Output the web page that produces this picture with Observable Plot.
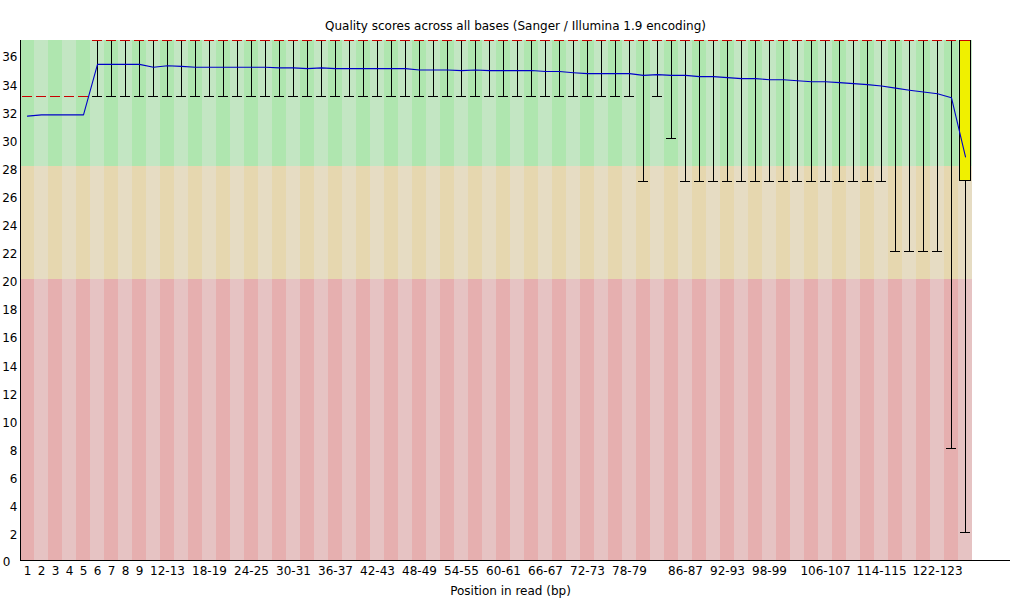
<!DOCTYPE html>
<html>
<head>
<meta charset="utf-8">
<script src="https://cdn.jsdelivr.net/npm/d3@7"></script>
<script src="https://cdn.jsdelivr.net/npm/@observablehq/plot@0.6"></script>
<style>
  html, body { margin: 0; padding: 0; background: white; }
</style>
</head>
<body>
<div id="chart"></div>
<script>
const title = "Quality scores across all bases (Sanger / Illumina 1.9 encoding)";
const xLabel = "Position in read (bp)";

const positions = ["1","2","3","4","5","6","7","8","9","10-11","12-13","14-15","16-17","18-19","20-21","22-23","24-25","26-27","28-29","30-31","32-33","34-35","36-37","38-39","40-41","42-43","44-45","46-47","48-49","50-51","52-53","54-55","56-57","58-59","60-61","62-63","64-65","66-67","68-69","70-71","72-73","74-75","76-77","78-79","80-81","82-83","84-85","86-87","88-89","90-91","92-93","94-95","96-97","98-99","100-101","102-103","104-105","106-107","108-109","110-111","112-113","114-115","116-117","118-119","120-121","122-123","124-125","126"];

const xTickLabels = ["1","2","3","4","5","6","7","8","9","12-13","18-19","24-25","30-31","36-37","42-43","48-49","54-55","60-61","66-67","72-73","78-79","86-87","92-93","98-99","106-107","114-115","122-123"];

const yTickLabels = [2,4,6,8,10,12,14,16,18,20,22,24,26,28,30,32,34,36];

const means = [
  31.62, 31.71, 31.71, 31.71, 31.71, 35.3, 35.3, 35.3, 35.3, 35.1,
  35.2, 35.16, 35.1, 35.1, 35.1, 35.1, 35.1, 35.1, 35.05, 35.05,
  35.0, 35.05, 35.0, 35.0, 35.0, 35.0, 35.0, 35.0, 34.9, 34.9,
  34.9, 34.86, 34.9, 34.86, 34.86, 34.86, 34.86, 34.79, 34.79, 34.71,
  34.64, 34.64, 34.64, 34.64, 34.52, 34.57, 34.52, 34.52, 34.43, 34.43,
  34.36, 34.29, 34.29, 34.21, 34.21, 34.14, 34.07, 34.07, 34.0, 33.93,
  33.86, 33.76, 33.61, 33.46, 33.33, 33.21, 32.92, 28.72
];

const medians = [
  33, 33, 33, 33, 33, 37, 37, 37, 37, 37,
  37, 37, 37, 37, 37, 37, 37, 37, 37, 37,
  37, 37, 37, 37, 37, 37, 37, 37, 37, 37,
  37, 37, 37, 37, 37, 37, 37, 37, 37, 37,
  37, 37, 37, 37, 37, 37, 37, 37, 37, 37,
  37, 37, 37, 37, 37, 37, 37, 37, 37, 37,
  37, 37, 37, 37, 37, 37, 37, 37
];

const lowerQuartile = [
  33, 33, 33, 33, 33, 37, 37, 37, 37, 37,
  37, 37, 37, 37, 37, 37, 37, 37, 37, 37,
  37, 37, 37, 37, 37, 37, 37, 37, 37, 37,
  37, 37, 37, 37, 37, 37, 37, 37, 37, 37,
  37, 37, 37, 37, 37, 37, 37, 37, 37, 37,
  37, 37, 37, 37, 37, 37, 37, 37, 37, 37,
  37, 37, 37, 37, 37, 37, 37, 27
];

const upperQuartile = [
  33, 33, 33, 33, 33, 37, 37, 37, 37, 37,
  37, 37, 37, 37, 37, 37, 37, 37, 37, 37,
  37, 37, 37, 37, 37, 37, 37, 37, 37, 37,
  37, 37, 37, 37, 37, 37, 37, 37, 37, 37,
  37, 37, 37, 37, 37, 37, 37, 37, 37, 37,
  37, 37, 37, 37, 37, 37, 37, 37, 37, 37,
  37, 37, 37, 37, 37, 37, 37, 37
];

const p10 = [
  33, 33, 33, 33, 33, 33, 33, 33, 33, 33,
  33, 33, 33, 33, 33, 33, 33, 33, 33, 33,
  33, 33, 33, 33, 33, 33, 33, 33, 33, 33,
  33, 33, 33, 33, 33, 33, 33, 33, 33, 33,
  33, 33, 33, 33, 27, 33, 30, 27, 27, 27,
  27, 27, 27, 27, 27, 27, 27, 27, 27, 27,
  27, 27, 22, 22, 22, 22, 8, 2
];

const p90 = [
  33, 33, 33, 33, 33, 37, 37, 37, 37, 37,
  37, 37, 37, 37, 37, 37, 37, 37, 37, 37,
  37, 37, 37, 37, 37, 37, 37, 37, 37, 37,
  37, 37, 37, 37, 37, 37, 37, 37, 37, 37,
  37, 37, 37, 37, 37, 37, 37, 37, 37, 37,
  37, 37, 37, 37, 37, 37, 37, 37, 37, 37,
  37, 37, 37, 37, 37, 37, 37, 37
];

// quality zones: low, high, even-column colour, odd-column colour
const zoneLows = [28, 20, 0];
const zoneHighs = [37, 28, 20];
const zoneEven = ["#afe6af", "#e6d7af", "#e6afaf"];
const zoneOdd = ["#c3e6c3", "#e6dcc3", "#e6c3c3"];

const yMax = 37;
const boxHalf = 0.375;

const idx = positions.map((_, i) => i);
const cells = [];
for (const i of idx) {
  for (let z = 0; z < zoneLows.length; z++) {
    cells.push({i, lo: zoneLows[z], hi: zoneHighs[z], color: i % 2 === 0 ? zoneEven[z] : zoneOdd[z]});
  }
}
const xTicks = xTickLabels.map(l => positions.indexOf(l));
const boxes = idx.filter(i => upperQuartile[i] > lowerQuartile[i]);

const chart = Plot.plot({
  width: 1020,
  height: 600,
  marginTop: 40,
  marginBottom: 40,
  marginLeft: 20,
  marginRight: 48,
  x: {domain: [-0.5, positions.length - 0.5], axis: null},
  y: {domain: [0, yMax], axis: null},
  color: {type: "identity"},
  style: {fontFamily: "'DejaVu Sans', sans-serif", fontSize: "12px", background: "white", color: "black"},
  marks: [
    Plot.rect(cells, {x1: d => d.i - 0.5, x2: d => d.i + 0.5, y1: "lo", y2: "hi", fill: "color", shapeRendering: "crispEdges"}),
    Plot.ruleX(idx, {x: i => i, y1: i => p10[i], y2: i => p90[i], stroke: "black", shapeRendering: "crispEdges"}),
    Plot.ruleY(idx, {y: i => p10[i], x1: i => i - boxHalf, x2: i => i + boxHalf, stroke: "black", shapeRendering: "crispEdges"}),
    Plot.ruleY(idx, {y: i => p90[i], x1: i => i - boxHalf, x2: i => i + boxHalf, stroke: "black", shapeRendering: "crispEdges"}),
    Plot.rect(boxes, {x1: i => i - boxHalf, x2: i => i + boxHalf, y1: i => lowerQuartile[i], y2: i => upperQuartile[i], fill: "#f0f000", stroke: "black", strokeWidth: 1, shapeRendering: "crispEdges"}),
    Plot.ruleY(idx, {y: i => medians[i], x1: i => i - boxHalf, x2: i => i + boxHalf, stroke: "#c80000", shapeRendering: "crispEdges"}),
    Plot.line(idx, {x: i => i, y: i => means[i], stroke: "#0000c8", strokeWidth: 1.1}),
    Plot.ruleX([-0.5], {stroke: "black", shapeRendering: "crispEdges"}),
    Plot.ruleY([0], {stroke: "black", insetRight: -38, shapeRendering: "crispEdges"}),
    Plot.axisY({ticks: yTickLabels, tickSize: 0, tickPadding: 3, dy: 3, anchor: "left"}),
    Plot.axisY({ticks: [0], tickSize: 0, tickPadding: 3, dy: 2, dx: -7, anchor: "left"}),
    Plot.axisX({ticks: xTicks, tickFormat: i => positions[i], tickSize: 0, tickPadding: 6, anchor: "bottom"}),
    Plot.text([title], {text: d => d, frameAnchor: "top", dx: 19, dy: -11, lineAnchor: "bottom"}),
    Plot.text([xLabel], {text: d => d, frameAnchor: "bottom", dx: 14, dy: 34, lineAnchor: "bottom"})
  ]
});
document.getElementById("chart").appendChild(chart);
</script>
</body>
</html>
